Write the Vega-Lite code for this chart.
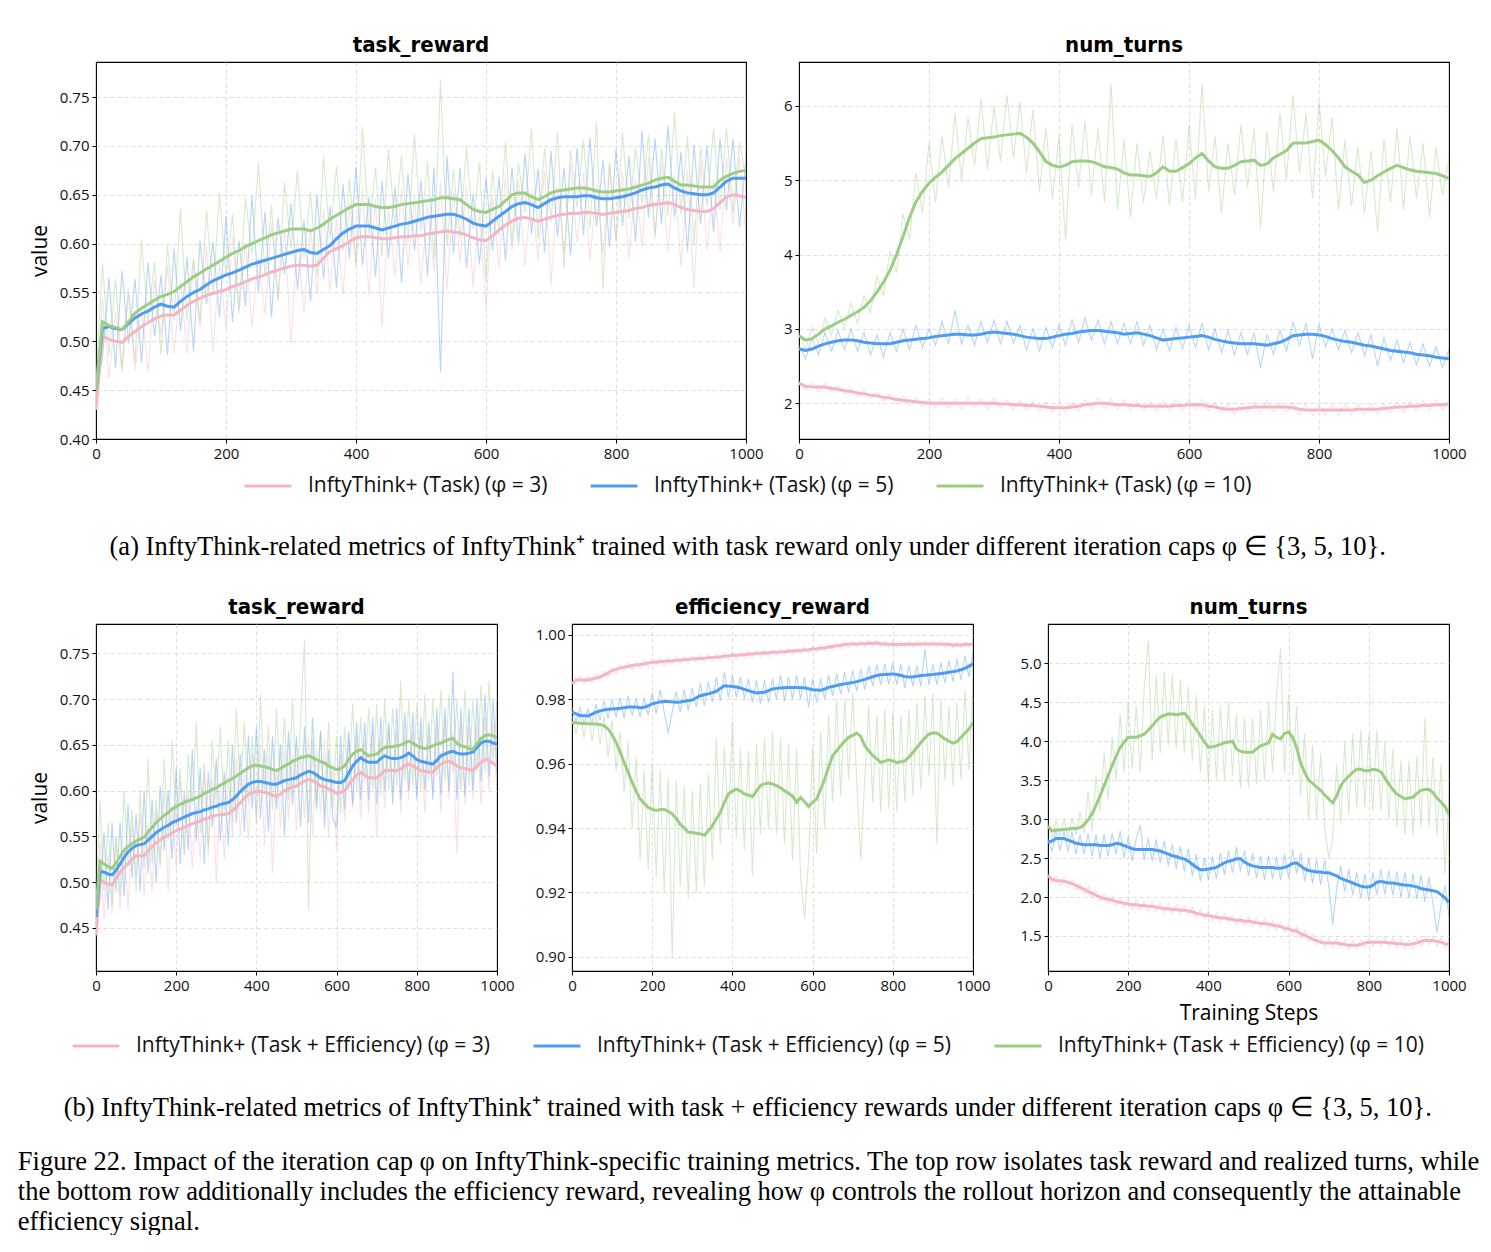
{
  "$schema": "https://vega.github.io/schema/vega-lite/v6.json",
  "padding": {"left": 17, "top": 33, "right": 0, "bottom": 0},
  "background": "white",
  "config": {
    "view": {"stroke": "#000", "strokeWidth": 1.1},
    "axis": {
      "labelFont": "Open Sans", "labelFontSize": 15, "labelColor": "#111",
      "tickColor": "#000", "tickSize": 4, "tickWidth": 1, "domain": false,
      "grid": true, "gridColor": "#d6d6d6", "gridDash": [4, 3], "gridWidth": 0.8,
      "labelFlush": false, "labelOverlap": false, "labelPadding": 3,
      "titleFont": "Open Sans", "titleFontSize": 21, "titleFontWeight": "normal", "titleColor": "#000"
    },
    "title": {"font": "DejaVu Sans Condensed, Liberation Sans Narrow, Roboto", "fontSize": 22, "fontWeight": "bold", "color": "#000", "offset": 5},
    "legend": {
      "orient": "bottom", "direction": "horizontal", "title": null,
      "labelFont": "Open Sans", "labelFontSize": 21, "labelColor": "#111", "labelLimit": 700,
      "symbolType": "stroke", "symbolSize": 2200, "symbolStrokeWidth": 3, "symbolOpacity": 1,
      "labelOffset": 15, "columnPadding": 36, "offset": -1,
      "layout": {"bottom": {"anchor": "middle"}}
    }
  },
  "datasets": {
    "runs": [
      {"p":1,"s":0,"a":0.43,"b":0.45,"c":0.46,"x":0.43,"y":0.45,"z":0.45},
      {"p":1,"s":10,"a":0.545,"b":0.483,"c":0.58,"x":0.505,"y":0.513,"z":0.52},
      {"p":1,"s":20,"a":0.462,"b":0.565,"c":0.486,"x":0.502,"y":0.515,"z":0.516},
      {"p":1,"s":30,"a":0.53,"b":0.473,"c":0.564,"x":0.5,"y":0.513,"z":0.514},
      {"p":1,"s":40,"a":0.469,"b":0.572,"c":0.472,"x":0.499,"y":0.512,"z":0.512},
      {"p":1,"s":50,"a":0.555,"b":0.498,"c":0.55,"x":0.505,"y":0.518,"z":0.52},
      {"p":1,"s":60,"a":0.47,"b":0.564,"c":0.479,"x":0.51,"y":0.524,"z":0.529},
      {"p":1,"s":70,"a":0.535,"b":0.478,"c":0.604,"x":0.515,"y":0.528,"z":0.534},
      {"p":1,"s":80,"a":0.469,"b":0.581,"c":0.518,"x":0.519,"y":0.531,"z":0.538},
      {"p":1,"s":90,"a":0.563,"b":0.505,"c":0.582,"x":0.523,"y":0.535,"z":0.542},
      {"p":1,"s":100,"a":0.506,"b":0.568,"c":0.486,"x":0.526,"y":0.538,"z":0.546},
      {"p":1,"s":110,"a":0.577,"b":0.486,"c":0.598,"x":0.527,"y":0.536,"z":0.548},
      {"p":1,"s":120,"a":0.487,"b":0.595,"c":0.521,"x":0.527,"y":0.535,"z":0.551},
      {"p":1,"s":130,"a":0.562,"b":0.511,"c":0.636,"x":0.532,"y":0.541,"z":0.556},
      {"p":1,"s":140,"a":0.487,"b":0.586,"c":0.521,"x":0.537,"y":0.546,"z":0.561},
      {"p":1,"s":150,"a":0.581,"b":0.49,"c":0.586,"x":0.541,"y":0.55,"z":0.566},
      {"p":1,"s":160,"a":0.514,"b":0.603,"c":0.52,"x":0.544,"y":0.553,"z":0.57},
      {"p":1,"s":170,"a":0.597,"b":0.538,"c":0.634,"x":0.547,"y":0.558,"z":0.574},
      {"p":1,"s":180,"a":0.489,"b":0.602,"c":0.548,"x":0.549,"y":0.562,"z":0.578},
      {"p":1,"s":190,"a":0.581,"b":0.525,"c":0.652,"x":0.551,"y":0.565,"z":0.582},
      {"p":1,"s":200,"a":0.513,"b":0.628,"c":0.566,"x":0.553,"y":0.568,"z":0.586},
      {"p":1,"s":210,"a":0.606,"b":0.52,"c":0.63,"x":0.556,"y":0.57,"z":0.59},
      {"p":1,"s":220,"a":0.528,"b":0.603,"c":0.533,"x":0.558,"y":0.573,"z":0.593},
      {"p":1,"s":230,"a":0.601,"b":0.536,"c":0.647,"x":0.561,"y":0.576,"z":0.597},
      {"p":1,"s":240,"a":0.514,"b":0.649,"c":0.59,"x":0.564,"y":0.579,"z":0.6},
      {"p":1,"s":250,"a":0.586,"b":0.551,"c":0.683,"x":0.566,"y":0.581,"z":0.603},
      {"p":1,"s":260,"a":0.528,"b":0.633,"c":0.566,"x":0.568,"y":0.583,"z":0.606},
      {"p":1,"s":270,"a":0.621,"b":0.525,"c":0.639,"x":0.571,"y":0.585,"z":0.609},
      {"p":1,"s":280,"a":0.543,"b":0.627,"c":0.541,"x":0.573,"y":0.587,"z":0.611},
      {"p":1,"s":290,"a":0.615,"b":0.569,"c":0.663,"x":0.575,"y":0.589,"z":0.613},
      {"p":1,"s":300,"a":0.497,"b":0.641,"c":0.595,"x":0.577,"y":0.591,"z":0.615},
      {"p":1,"s":310,"a":0.608,"b":0.553,"c":0.675,"x":0.578,"y":0.593,"z":0.615},
      {"p":1,"s":320,"a":0.528,"b":0.624,"c":0.585,"x":0.578,"y":0.594,"z":0.615},
      {"p":1,"s":330,"a":0.617,"b":0.541,"c":0.653,"x":0.577,"y":0.591,"z":0.613},
      {"p":1,"s":340,"a":0.548,"b":0.65,"c":0.566,"x":0.578,"y":0.59,"z":0.616},
      {"p":1,"s":350,"a":0.635,"b":0.564,"c":0.69,"x":0.585,"y":0.594,"z":0.62},
      {"p":1,"s":360,"a":0.552,"b":0.638,"c":0.605,"x":0.592,"y":0.598,"z":0.625},
      {"p":1,"s":370,"a":0.625,"b":0.555,"c":0.679,"x":0.595,"y":0.605,"z":0.629},
      {"p":1,"s":380,"a":0.548,"b":0.661,"c":0.593,"x":0.598,"y":0.611,"z":0.633},
      {"p":1,"s":390,"a":0.642,"b":0.585,"c":0.667,"x":0.602,"y":0.615,"z":0.637},
      {"p":1,"s":400,"a":0.576,"b":0.678,"c":0.58,"x":0.606,"y":0.618,"z":0.64},
      {"p":1,"s":410,"a":0.657,"b":0.578,"c":0.72,"x":0.607,"y":0.618,"z":0.64},
      {"p":1,"s":420,"a":0.547,"b":0.648,"c":0.61,"x":0.607,"y":0.618,"z":0.64},
      {"p":1,"s":430,"a":0.646,"b":0.566,"c":0.678,"x":0.606,"y":0.616,"z":0.638},
      {"p":1,"s":440,"a":0.515,"b":0.664,"c":0.587,"x":0.605,"y":0.614,"z":0.637},
      {"p":1,"s":450,"a":0.635,"b":0.586,"c":0.697,"x":0.605,"y":0.616,"z":0.637},
      {"p":1,"s":460,"a":0.566,"b":0.658,"c":0.618,"x":0.606,"y":0.618,"z":0.638},
      {"p":1,"s":470,"a":0.657,"b":0.56,"c":0.69,"x":0.607,"y":0.62,"z":0.64},
      {"p":1,"s":480,"a":0.577,"b":0.671,"c":0.601,"x":0.607,"y":0.621,"z":0.641},
      {"p":1,"s":490,"a":0.648,"b":0.593,"c":0.712,"x":0.608,"y":0.623,"z":0.642},
      {"p":1,"s":500,"a":0.558,"b":0.665,"c":0.613,"x":0.608,"y":0.625,"z":0.643},
      {"p":1,"s":510,"a":0.64,"b":0.567,"c":0.684,"x":0.61,"y":0.627,"z":0.644},
      {"p":1,"s":520,"a":0.571,"b":0.678,"c":0.585,"x":0.611,"y":0.628,"z":0.645},
      {"p":1,"s":530,"a":0.662,"b":0.469,"c":0.767,"x":0.612,"y":0.629,"z":0.647},
      {"p":1,"s":540,"a":0.553,"b":0.69,"c":0.597,"x":0.613,"y":0.63,"z":0.647},
      {"p":1,"s":550,"a":0.652,"b":0.59,"c":0.676,"x":0.612,"y":0.63,"z":0.646},
      {"p":1,"s":560,"a":0.581,"b":0.678,"c":0.605,"x":0.611,"y":0.628,"z":0.645},
      {"p":1,"s":570,"a":0.659,"b":0.575,"c":0.7,"x":0.609,"y":0.625,"z":0.64},
      {"p":1,"s":580,"a":0.556,"b":0.651,"c":0.615,"x":0.606,"y":0.621,"z":0.635},
      {"p":1,"s":590,"a":0.634,"b":0.579,"c":0.683,"x":0.604,"y":0.619,"z":0.633},
      {"p":1,"s":600,"a":0.533,"b":0.668,"c":0.562,"x":0.603,"y":0.618,"z":0.632},
      {"p":1,"s":610,"a":0.648,"b":0.593,"c":0.675,"x":0.608,"y":0.623,"z":0.635},
      {"p":1,"s":620,"a":0.574,"b":0.668,"c":0.608,"x":0.614,"y":0.628,"z":0.638},
      {"p":1,"s":630,"a":0.669,"b":0.583,"c":0.704,"x":0.619,"y":0.633,"z":0.644},
      {"p":1,"s":640,"a":0.593,"b":0.678,"c":0.6,"x":0.623,"y":0.638,"z":0.65},
      {"p":1,"s":650,"a":0.666,"b":0.601,"c":0.682,"x":0.626,"y":0.641,"z":0.652},
      {"p":1,"s":660,"a":0.577,"b":0.692,"c":0.632,"x":0.627,"y":0.642,"z":0.652},
      {"p":1,"s":670,"a":0.655,"b":0.61,"c":0.718,"x":0.625,"y":0.64,"z":0.648},
      {"p":1,"s":680,"a":0.583,"b":0.677,"c":0.605,"x":0.623,"y":0.637,"z":0.645},
      {"p":1,"s":690,"a":0.675,"b":0.591,"c":0.698,"x":0.625,"y":0.641,"z":0.648},
      {"p":1,"s":700,"a":0.557,"b":0.695,"c":0.622,"x":0.627,"y":0.645,"z":0.652},
      {"p":1,"s":710,"a":0.659,"b":0.607,"c":0.714,"x":0.629,"y":0.647,"z":0.654},
      {"p":1,"s":720,"a":0.59,"b":0.678,"c":0.575,"x":0.63,"y":0.648,"z":0.655},
      {"p":1,"s":730,"a":0.681,"b":0.588,"c":0.696,"x":0.631,"y":0.648,"z":0.656},
      {"p":1,"s":740,"a":0.601,"b":0.698,"c":0.637,"x":0.631,"y":0.648,"z":0.657},
      {"p":1,"s":750,"a":0.672,"b":0.609,"c":0.707,"x":0.632,"y":0.649,"z":0.657},
      {"p":1,"s":760,"a":0.582,"b":0.709,"c":0.616,"x":0.632,"y":0.649,"z":0.656},
      {"p":1,"s":770,"a":0.661,"b":0.617,"c":0.724,"x":0.631,"y":0.647,"z":0.654},
      {"p":1,"s":780,"a":0.59,"b":0.686,"c":0.553,"x":0.63,"y":0.646,"z":0.653},
      {"p":1,"s":790,"a":0.681,"b":0.596,"c":0.683,"x":0.631,"y":0.646,"z":0.653},
      {"p":1,"s":800,"a":0.602,"b":0.697,"c":0.604,"x":0.632,"y":0.647,"z":0.654},
      {"p":1,"s":810,"a":0.673,"b":0.618,"c":0.715,"x":0.633,"y":0.648,"z":0.655},
      {"p":1,"s":820,"a":0.584,"b":0.69,"c":0.626,"x":0.634,"y":0.65,"z":0.656},
      {"p":1,"s":830,"a":0.666,"b":0.602,"c":0.698,"x":0.636,"y":0.652,"z":0.658},
      {"p":1,"s":840,"a":0.597,"b":0.715,"c":0.64,"x":0.637,"y":0.655,"z":0.66},
      {"p":1,"s":850,"a":0.689,"b":0.627,"c":0.712,"x":0.639,"y":0.657,"z":0.662},
      {"p":1,"s":860,"a":0.61,"b":0.708,"c":0.605,"x":0.64,"y":0.658,"z":0.665},
      {"p":1,"s":870,"a":0.681,"b":0.62,"c":0.697,"x":0.641,"y":0.66,"z":0.667},
      {"p":1,"s":880,"a":0.592,"b":0.721,"c":0.628,"x":0.642,"y":0.661,"z":0.668},
      {"p":1,"s":890,"a":0.67,"b":0.627,"c":0.734,"x":0.64,"y":0.657,"z":0.664},
      {"p":1,"s":900,"a":0.577,"b":0.694,"c":0.63,"x":0.637,"y":0.654,"z":0.66},
      {"p":1,"s":910,"a":0.675,"b":0.592,"c":0.71,"x":0.635,"y":0.652,"z":0.66},
      {"p":1,"s":920,"a":0.554,"b":0.701,"c":0.599,"x":0.634,"y":0.651,"z":0.659},
      {"p":1,"s":930,"a":0.683,"b":0.62,"c":0.698,"x":0.633,"y":0.65,"z":0.658},
      {"p":1,"s":940,"a":0.593,"b":0.7,"c":0.638,"x":0.633,"y":0.65,"z":0.658},
      {"p":1,"s":950,"a":0.666,"b":0.612,"c":0.718,"x":0.636,"y":0.652,"z":0.658},
      {"p":1,"s":960,"a":0.592,"b":0.708,"c":0.635,"x":0.642,"y":0.658,"z":0.665},
      {"p":1,"s":970,"a":0.688,"b":0.634,"c":0.719,"x":0.648,"y":0.664,"z":0.669},
      {"p":1,"s":980,"a":0.62,"b":0.707,"c":0.632,"x":0.65,"y":0.667,"z":0.672},
      {"p":1,"s":990,"a":0.689,"b":0.617,"c":0.704,"x":0.649,"y":0.667,"z":0.674},
      {"p":1,"s":1000,"a":0.607,"b":0.687,"c":0.665,"x":0.647,"y":0.667,"z":0.675},

      {"p":2,"s":0,"a":2.3,"b":2.78,"c":2.95,"x":2.27,"y":2.73,"z":2.91},
      {"p":2,"s":10,"a":2.18,"b":2.6,"c":2.72,"x":2.23,"y":2.71,"z":2.85},
      {"p":2,"s":20,"a":2.27,"b":2.88,"c":3.02,"x":2.22,"y":2.73,"z":2.87},
      {"p":2,"s":30,"a":2.16,"b":2.65,"c":2.8,"x":2.22,"y":2.77,"z":2.93},
      {"p":2,"s":40,"a":2.27,"b":2.95,"c":3.15,"x":2.22,"y":2.8,"z":3.0},
      {"p":2,"s":50,"a":2.15,"b":2.7,"c":2.92,"x":2.2,"y":2.82,"z":3.04},
      {"p":2,"s":60,"a":2.24,"b":2.98,"c":3.25,"x":2.19,"y":2.84,"z":3.09},
      {"p":2,"s":70,"a":2.12,"b":2.72,"c":3.0,"x":2.17,"y":2.85,"z":3.13},
      {"p":2,"s":80,"a":2.21,"b":3.0,"c":3.35,"x":2.16,"y":2.85,"z":3.18},
      {"p":2,"s":90,"a":2.09,"b":2.7,"c":3.08,"x":2.14,"y":2.84,"z":3.23},
      {"p":2,"s":100,"a":2.18,"b":2.95,"c":3.45,"x":2.13,"y":2.82,"z":3.29},
      {"p":2,"s":110,"a":2.06,"b":2.65,"c":3.22,"x":2.11,"y":2.81,"z":3.38},
      {"p":2,"s":120,"a":2.15,"b":2.92,"c":3.7,"x":2.1,"y":2.8,"z":3.5},
      {"p":2,"s":130,"a":2.03,"b":2.62,"c":3.45,"x":2.08,"y":2.8,"z":3.63},
      {"p":2,"s":140,"a":2.12,"b":2.95,"c":4.05,"x":2.07,"y":2.8,"z":3.79},
      {"p":2,"s":150,"a":2.0,"b":2.7,"c":3.75,"x":2.05,"y":2.82,"z":4.0},
      {"p":2,"s":160,"a":2.1,"b":3.0,"c":4.55,"x":2.04,"y":2.84,"z":4.24},
      {"p":2,"s":170,"a":1.97,"b":2.72,"c":4.2,"x":2.03,"y":2.85,"z":4.5},
      {"p":2,"s":180,"a":2.08,"b":3.05,"c":5.1,"x":2.02,"y":2.86,"z":4.71},
      {"p":2,"s":190,"a":1.95,"b":2.75,"c":4.55,"x":2.01,"y":2.87,"z":4.85},
      {"p":2,"s":200,"a":2.06,"b":3.0,"c":5.5,"x":2.0,"y":2.88,"z":4.96},
      {"p":2,"s":210,"a":1.94,"b":2.78,"c":4.7,"x":2.0,"y":2.9,"z":5.04},
      {"p":2,"s":220,"a":2.07,"b":3.1,"c":5.6,"x":2.0,"y":2.91,"z":5.11},
      {"p":2,"s":230,"a":1.93,"b":2.8,"c":4.9,"x":2.0,"y":2.92,"z":5.2},
      {"p":2,"s":240,"a":2.06,"b":3.25,"c":5.9,"x":2.0,"y":2.93,"z":5.29},
      {"p":2,"s":250,"a":1.92,"b":2.8,"c":5.0,"x":2.0,"y":2.93,"z":5.36},
      {"p":2,"s":260,"a":2.07,"b":3.05,"c":5.85,"x":2.0,"y":2.92,"z":5.43},
      {"p":2,"s":270,"a":1.94,"b":2.78,"c":5.2,"x":2.0,"y":2.92,"z":5.5},
      {"p":2,"s":280,"a":2.06,"b":3.1,"c":6.1,"x":2.0,"y":2.93,"z":5.56},
      {"p":2,"s":290,"a":1.92,"b":2.82,"c":5.15,"x":2.0,"y":2.95,"z":5.57},
      {"p":2,"s":300,"a":2.07,"b":3.12,"c":6.0,"x":2.0,"y":2.96,"z":5.58},
      {"p":2,"s":310,"a":1.93,"b":2.8,"c":5.25,"x":1.99,"y":2.95,"z":5.6},
      {"p":2,"s":320,"a":2.05,"b":3.1,"c":6.15,"x":1.99,"y":2.94,"z":5.61},
      {"p":2,"s":330,"a":1.91,"b":2.8,"c":5.3,"x":1.98,"y":2.93,"z":5.62},
      {"p":2,"s":340,"a":2.04,"b":3.05,"c":6.05,"x":1.98,"y":2.91,"z":5.63},
      {"p":2,"s":350,"a":1.9,"b":2.72,"c":5.1,"x":1.97,"y":2.89,"z":5.58},
      {"p":2,"s":360,"a":2.03,"b":3.0,"c":5.95,"x":1.97,"y":2.88,"z":5.5},
      {"p":2,"s":370,"a":1.89,"b":2.7,"c":4.85,"x":1.96,"y":2.87,"z":5.38},
      {"p":2,"s":380,"a":2.02,"b":3.02,"c":5.7,"x":1.95,"y":2.87,"z":5.25},
      {"p":2,"s":390,"a":1.88,"b":2.75,"c":4.75,"x":1.94,"y":2.89,"z":5.2},
      {"p":2,"s":400,"a":2.01,"b":3.05,"c":5.6,"x":1.94,"y":2.91,"z":5.18},
      {"p":2,"s":410,"a":1.87,"b":2.78,"c":4.2,"x":1.94,"y":2.93,"z":5.2},
      {"p":2,"s":420,"a":2.02,"b":3.12,"c":5.75,"x":1.95,"y":2.94,"z":5.25},
      {"p":2,"s":430,"a":1.89,"b":2.82,"c":4.9,"x":1.96,"y":2.96,"z":5.26},
      {"p":2,"s":440,"a":2.05,"b":3.15,"c":5.8,"x":1.98,"y":2.97,"z":5.26},
      {"p":2,"s":450,"a":1.92,"b":2.85,"c":4.8,"x":1.99,"y":2.98,"z":5.25},
      {"p":2,"s":460,"a":2.07,"b":3.12,"c":5.7,"x":2.0,"y":2.98,"z":5.22},
      {"p":2,"s":470,"a":1.93,"b":2.8,"c":4.7,"x":2.0,"y":2.97,"z":5.18},
      {"p":2,"s":480,"a":2.06,"b":3.1,"c":6.3,"x":1.99,"y":2.96,"z":5.17},
      {"p":2,"s":490,"a":1.91,"b":2.8,"c":4.6,"x":1.98,"y":2.95,"z":5.15},
      {"p":2,"s":500,"a":2.05,"b":3.08,"c":5.55,"x":1.98,"y":2.93,"z":5.1},
      {"p":2,"s":510,"a":1.9,"b":2.8,"c":4.5,"x":1.97,"y":2.94,"z":5.07},
      {"p":2,"s":520,"a":2.04,"b":3.1,"c":5.5,"x":1.97,"y":2.95,"z":5.07},
      {"p":2,"s":530,"a":1.89,"b":2.78,"c":4.7,"x":1.96,"y":2.93,"z":5.06},
      {"p":2,"s":540,"a":2.03,"b":3.05,"c":5.4,"x":1.96,"y":2.91,"z":5.05},
      {"p":2,"s":550,"a":1.89,"b":2.72,"c":4.75,"x":1.96,"y":2.88,"z":5.1},
      {"p":2,"s":560,"a":2.03,"b":3.0,"c":5.6,"x":1.96,"y":2.85,"z":5.18},
      {"p":2,"s":570,"a":1.9,"b":2.7,"c":4.65,"x":1.96,"y":2.86,"z":5.12},
      {"p":2,"s":580,"a":2.04,"b":3.02,"c":5.55,"x":1.97,"y":2.87,"z":5.12},
      {"p":2,"s":590,"a":1.9,"b":2.73,"c":4.7,"x":1.97,"y":2.88,"z":5.17},
      {"p":2,"s":600,"a":2.05,"b":3.05,"c":5.75,"x":1.98,"y":2.89,"z":5.22},
      {"p":2,"s":610,"a":1.91,"b":2.75,"c":4.75,"x":1.98,"y":2.9,"z":5.3},
      {"p":2,"s":620,"a":2.06,"b":3.08,"c":6.3,"x":1.98,"y":2.91,"z":5.36},
      {"p":2,"s":630,"a":1.9,"b":2.72,"c":4.85,"x":1.96,"y":2.89,"z":5.26},
      {"p":2,"s":640,"a":2.02,"b":3.0,"c":5.6,"x":1.95,"y":2.86,"z":5.18},
      {"p":2,"s":650,"a":1.87,"b":2.68,"c":4.55,"x":1.93,"y":2.84,"z":5.16},
      {"p":2,"s":660,"a":1.99,"b":2.98,"c":5.5,"x":1.92,"y":2.82,"z":5.16},
      {"p":2,"s":670,"a":1.85,"b":2.65,"c":4.8,"x":1.92,"y":2.81,"z":5.2},
      {"p":2,"s":680,"a":2.0,"b":2.95,"c":5.75,"x":1.93,"y":2.8,"z":5.25},
      {"p":2,"s":690,"a":1.87,"b":2.66,"c":4.9,"x":1.94,"y":2.8,"z":5.26},
      {"p":2,"s":700,"a":2.02,"b":2.95,"c":5.7,"x":1.95,"y":2.8,"z":5.27},
      {"p":2,"s":710,"a":1.88,"b":2.48,"c":4.35,"x":1.95,"y":2.79,"z":5.2},
      {"p":2,"s":720,"a":2.03,"b":2.93,"c":5.65,"x":1.95,"y":2.78,"z":5.22},
      {"p":2,"s":730,"a":1.88,"b":2.66,"c":4.85,"x":1.95,"y":2.8,"z":5.3},
      {"p":2,"s":740,"a":2.02,"b":2.98,"c":5.9,"x":1.95,"y":2.82,"z":5.35},
      {"p":2,"s":750,"a":1.88,"b":2.7,"c":5.0,"x":1.95,"y":2.86,"z":5.4},
      {"p":2,"s":760,"a":2.01,"b":3.1,"c":6.15,"x":1.94,"y":2.91,"z":5.5},
      {"p":2,"s":770,"a":1.85,"b":2.78,"c":5.1,"x":1.92,"y":2.92,"z":5.5},
      {"p":2,"s":780,"a":1.98,"b":3.08,"c":5.9,"x":1.91,"y":2.93,"z":5.5},
      {"p":2,"s":790,"a":1.84,"b":2.6,"c":4.75,"x":1.91,"y":2.93,"z":5.52},
      {"p":2,"s":800,"a":1.98,"b":3.06,"c":6.05,"x":1.91,"y":2.92,"z":5.54},
      {"p":2,"s":810,"a":1.84,"b":2.76,"c":5.05,"x":1.91,"y":2.9,"z":5.48},
      {"p":2,"s":820,"a":1.98,"b":3.0,"c":5.85,"x":1.91,"y":2.87,"z":5.4},
      {"p":2,"s":830,"a":1.84,"b":2.72,"c":4.6,"x":1.91,"y":2.85,"z":5.3},
      {"p":2,"s":840,"a":1.98,"b":2.98,"c":5.55,"x":1.91,"y":2.83,"z":5.18},
      {"p":2,"s":850,"a":1.85,"b":2.68,"c":4.65,"x":1.91,"y":2.82,"z":5.12},
      {"p":2,"s":860,"a":1.99,"b":2.95,"c":5.45,"x":1.92,"y":2.8,"z":5.07},
      {"p":2,"s":870,"a":1.85,"b":2.64,"c":4.55,"x":1.92,"y":2.78,"z":4.97},
      {"p":2,"s":880,"a":1.99,"b":2.92,"c":5.4,"x":1.92,"y":2.77,"z":5.0},
      {"p":2,"s":890,"a":1.86,"b":2.5,"c":4.3,"x":1.92,"y":2.75,"z":5.06},
      {"p":2,"s":900,"a":2.0,"b":2.88,"c":5.55,"x":1.93,"y":2.73,"z":5.11},
      {"p":2,"s":910,"a":1.87,"b":2.58,"c":4.7,"x":1.94,"y":2.71,"z":5.16},
      {"p":2,"s":920,"a":2.02,"b":2.85,"c":5.7,"x":1.95,"y":2.7,"z":5.2},
      {"p":2,"s":930,"a":1.88,"b":2.55,"c":4.6,"x":1.95,"y":2.69,"z":5.17},
      {"p":2,"s":940,"a":2.03,"b":2.82,"c":5.6,"x":1.96,"y":2.68,"z":5.14},
      {"p":2,"s":950,"a":1.89,"b":2.52,"c":4.75,"x":1.96,"y":2.66,"z":5.12},
      {"p":2,"s":960,"a":2.04,"b":2.8,"c":5.5,"x":1.97,"y":2.65,"z":5.11},
      {"p":2,"s":970,"a":1.9,"b":2.5,"c":4.5,"x":1.97,"y":2.64,"z":5.1},
      {"p":2,"s":980,"a":2.05,"b":2.76,"c":5.45,"x":1.98,"y":2.62,"z":5.09},
      {"p":2,"s":990,"a":1.91,"b":2.48,"c":4.8,"x":1.98,"y":2.61,"z":5.06},
      {"p":2,"s":1000,"a":2.05,"b":2.72,"c":5.3,"x":1.99,"y":2.6,"z":5.02},

      {"p":3,"s":0,"a":0.44,"b":0.46,"c":0.48,"x":0.442,"y":0.462,"z":0.47},
      {"p":3,"s":10,"a":0.545,"b":0.48,"c":0.59,"x":0.503,"y":0.512,"z":0.523},
      {"p":3,"s":20,"a":0.46,"b":0.555,"c":0.49,"x":0.5,"y":0.511,"z":0.52},
      {"p":3,"s":30,"a":0.53,"b":0.47,"c":0.565,"x":0.498,"y":0.509,"z":0.517},
      {"p":3,"s":40,"a":0.465,"b":0.565,"c":0.475,"x":0.497,"y":0.508,"z":0.515},
      {"p":3,"s":50,"a":0.55,"b":0.49,"c":0.55,"x":0.504,"y":0.513,"z":0.521},
      {"p":3,"s":60,"a":0.47,"b":0.565,"c":0.485,"x":0.511,"y":0.52,"z":0.528},
      {"p":3,"s":70,"a":0.54,"b":0.485,"c":0.6,"x":0.516,"y":0.527,"z":0.535},
      {"p":3,"s":80,"a":0.47,"b":0.585,"c":0.52,"x":0.52,"y":0.533,"z":0.539},
      {"p":3,"s":90,"a":0.565,"b":0.505,"c":0.58,"x":0.525,"y":0.537,"z":0.542},
      {"p":3,"s":100,"a":0.505,"b":0.575,"c":0.49,"x":0.529,"y":0.54,"z":0.545},
      {"p":3,"s":110,"a":0.575,"b":0.49,"c":0.6,"x":0.529,"y":0.541,"z":0.547},
      {"p":3,"s":120,"a":0.485,"b":0.6,"c":0.515,"x":0.529,"y":0.542,"z":0.549},
      {"p":3,"s":130,"a":0.565,"b":0.51,"c":0.635,"x":0.534,"y":0.546,"z":0.555},
      {"p":3,"s":140,"a":0.49,"b":0.59,"c":0.52,"x":0.539,"y":0.55,"z":0.56},
      {"p":3,"s":150,"a":0.58,"b":0.5,"c":0.59,"x":0.543,"y":0.554,"z":0.565},
      {"p":3,"s":160,"a":0.515,"b":0.605,"c":0.52,"x":0.546,"y":0.557,"z":0.569},
      {"p":3,"s":170,"a":0.6,"b":0.535,"c":0.635,"x":0.549,"y":0.56,"z":0.573},
      {"p":3,"s":180,"a":0.49,"b":0.6,"c":0.545,"x":0.551,"y":0.562,"z":0.576},
      {"p":3,"s":190,"a":0.585,"b":0.525,"c":0.655,"x":0.554,"y":0.565,"z":0.58},
      {"p":3,"s":200,"a":0.515,"b":0.625,"c":0.56,"x":0.556,"y":0.567,"z":0.583},
      {"p":3,"s":210,"a":0.61,"b":0.52,"c":0.625,"x":0.558,"y":0.569,"z":0.585},
      {"p":3,"s":220,"a":0.53,"b":0.6,"c":0.53,"x":0.56,"y":0.571,"z":0.587},
      {"p":3,"s":230,"a":0.6,"b":0.535,"c":0.64,"x":0.562,"y":0.573,"z":0.589},
      {"p":3,"s":240,"a":0.515,"b":0.645,"c":0.585,"x":0.564,"y":0.575,"z":0.59},
      {"p":3,"s":250,"a":0.585,"b":0.545,"c":0.675,"x":0.565,"y":0.576,"z":0.592},
      {"p":3,"s":260,"a":0.525,"b":0.625,"c":0.555,"x":0.567,"y":0.577,"z":0.594},
      {"p":3,"s":270,"a":0.62,"b":0.52,"c":0.63,"x":0.569,"y":0.579,"z":0.597},
      {"p":3,"s":280,"a":0.54,"b":0.62,"c":0.53,"x":0.57,"y":0.58,"z":0.599},
      {"p":3,"s":290,"a":0.615,"b":0.56,"c":0.655,"x":0.572,"y":0.582,"z":0.601},
      {"p":3,"s":300,"a":0.5,"b":0.635,"c":0.585,"x":0.573,"y":0.583,"z":0.603},
      {"p":3,"s":310,"a":0.605,"b":0.545,"c":0.67,"x":0.574,"y":0.585,"z":0.606},
      {"p":3,"s":320,"a":0.525,"b":0.62,"c":0.575,"x":0.574,"y":0.586,"z":0.608},
      {"p":3,"s":330,"a":0.615,"b":0.54,"c":0.655,"x":0.575,"y":0.587,"z":0.611},
      {"p":3,"s":340,"a":0.55,"b":0.65,"c":0.565,"x":0.578,"y":0.59,"z":0.613},
      {"p":3,"s":350,"a":0.635,"b":0.565,"c":0.69,"x":0.582,"y":0.594,"z":0.616},
      {"p":3,"s":360,"a":0.55,"b":0.64,"c":0.6,"x":0.587,"y":0.599,"z":0.619},
      {"p":3,"s":370,"a":0.62,"b":0.555,"c":0.675,"x":0.592,"y":0.603,"z":0.622},
      {"p":3,"s":380,"a":0.545,"b":0.66,"c":0.585,"x":0.596,"y":0.607,"z":0.625},
      {"p":3,"s":390,"a":0.64,"b":0.58,"c":0.66,"x":0.598,"y":0.609,"z":0.627},
      {"p":3,"s":400,"a":0.57,"b":0.67,"c":0.565,"x":0.599,"y":0.61,"z":0.628},
      {"p":3,"s":410,"a":0.65,"b":0.57,"c":0.705,"x":0.599,"y":0.61,"z":0.627},
      {"p":3,"s":420,"a":0.54,"b":0.645,"c":0.6,"x":0.598,"y":0.609,"z":0.626},
      {"p":3,"s":430,"a":0.64,"b":0.555,"c":0.67,"x":0.597,"y":0.608,"z":0.625},
      {"p":3,"s":440,"a":0.51,"b":0.66,"c":0.58,"x":0.595,"y":0.607,"z":0.623},
      {"p":3,"s":450,"a":0.625,"b":0.58,"c":0.69,"x":0.594,"y":0.607,"z":0.622},
      {"p":3,"s":460,"a":0.56,"b":0.65,"c":0.605,"x":0.596,"y":0.609,"z":0.624},
      {"p":3,"s":470,"a":0.645,"b":0.55,"c":0.68,"x":0.6,"y":0.611,"z":0.627},
      {"p":3,"s":480,"a":0.57,"b":0.665,"c":0.59,"x":0.602,"y":0.612,"z":0.629},
      {"p":3,"s":490,"a":0.64,"b":0.585,"c":0.7,"x":0.604,"y":0.613,"z":0.632},
      {"p":3,"s":500,"a":0.555,"b":0.66,"c":0.605,"x":0.605,"y":0.614,"z":0.634},
      {"p":3,"s":510,"a":0.64,"b":0.56,"c":0.675,"x":0.608,"y":0.617,"z":0.636},
      {"p":3,"s":520,"a":0.57,"b":0.67,"c":0.765,"x":0.61,"y":0.619,"z":0.637},
      {"p":3,"s":530,"a":0.66,"b":0.565,"c":0.47,"x":0.612,"y":0.621,"z":0.638},
      {"p":3,"s":540,"a":0.55,"b":0.68,"c":0.655,"x":0.611,"y":0.62,"z":0.636},
      {"p":3,"s":550,"a":0.645,"b":0.58,"c":0.585,"x":0.608,"y":0.617,"z":0.634},
      {"p":3,"s":560,"a":0.575,"b":0.665,"c":0.665,"x":0.605,"y":0.614,"z":0.632},
      {"p":3,"s":570,"a":0.655,"b":0.56,"c":0.575,"x":0.604,"y":0.612,"z":0.63},
      {"p":3,"s":580,"a":0.55,"b":0.645,"c":0.675,"x":0.602,"y":0.611,"z":0.627},
      {"p":3,"s":590,"a":0.63,"b":0.57,"c":0.58,"x":0.6,"y":0.61,"z":0.625},
      {"p":3,"s":600,"a":0.535,"b":0.56,"c":0.66,"x":0.597,"y":0.609,"z":0.623},
      {"p":3,"s":610,"a":0.64,"b":0.66,"c":0.575,"x":0.598,"y":0.609,"z":0.624},
      {"p":3,"s":620,"a":0.565,"b":0.58,"c":0.67,"x":0.6,"y":0.611,"z":0.627},
      {"p":3,"s":630,"a":0.66,"b":0.665,"c":0.6,"x":0.606,"y":0.619,"z":0.634},
      {"p":3,"s":640,"a":0.58,"b":0.585,"c":0.695,"x":0.612,"y":0.627,"z":0.64},
      {"p":3,"s":650,"a":0.66,"b":0.675,"c":0.6,"x":0.617,"y":0.632,"z":0.643},
      {"p":3,"s":660,"a":0.57,"b":0.59,"c":0.68,"x":0.62,"y":0.636,"z":0.645},
      {"p":3,"s":670,"a":0.655,"b":0.675,"c":0.61,"x":0.617,"y":0.633,"z":0.641},
      {"p":3,"s":680,"a":0.575,"b":0.59,"c":0.69,"x":0.614,"y":0.631,"z":0.638},
      {"p":3,"s":690,"a":0.665,"b":0.68,"c":0.6,"x":0.614,"y":0.631,"z":0.639},
      {"p":3,"s":700,"a":0.55,"b":0.585,"c":0.695,"x":0.614,"y":0.631,"z":0.64},
      {"p":3,"s":710,"a":0.655,"b":0.68,"c":0.595,"x":0.618,"y":0.635,"z":0.644},
      {"p":3,"s":720,"a":0.58,"b":0.6,"c":0.7,"x":0.622,"y":0.638,"z":0.647},
      {"p":3,"s":730,"a":0.67,"b":0.675,"c":0.6,"x":0.622,"y":0.636,"z":0.648},
      {"p":3,"s":740,"a":0.6,"b":0.585,"c":0.69,"x":0.622,"y":0.635,"z":0.648},
      {"p":3,"s":750,"a":0.665,"b":0.69,"c":0.605,"x":0.622,"y":0.635,"z":0.649},
      {"p":3,"s":760,"a":0.575,"b":0.59,"c":0.72,"x":0.624,"y":0.636,"z":0.65},
      {"p":3,"s":770,"a":0.66,"b":0.685,"c":0.61,"x":0.627,"y":0.638,"z":0.652},
      {"p":3,"s":780,"a":0.59,"b":0.6,"c":0.7,"x":0.629,"y":0.641,"z":0.654},
      {"p":3,"s":790,"a":0.665,"b":0.685,"c":0.605,"x":0.627,"y":0.638,"z":0.652},
      {"p":3,"s":800,"a":0.595,"b":0.59,"c":0.695,"x":0.624,"y":0.634,"z":0.649},
      {"p":3,"s":810,"a":0.665,"b":0.68,"c":0.6,"x":0.622,"y":0.632,"z":0.647},
      {"p":3,"s":820,"a":0.575,"b":0.6,"c":0.705,"x":0.621,"y":0.631,"z":0.646},
      {"p":3,"s":830,"a":0.66,"b":0.675,"c":0.61,"x":0.62,"y":0.63,"z":0.647},
      {"p":3,"s":840,"a":0.6,"b":0.59,"c":0.7,"x":0.62,"y":0.629,"z":0.649},
      {"p":3,"s":850,"a":0.67,"b":0.69,"c":0.615,"x":0.625,"y":0.633,"z":0.651},
      {"p":3,"s":860,"a":0.575,"b":0.595,"c":0.71,"x":0.629,"y":0.638,"z":0.652},
      {"p":3,"s":870,"a":0.68,"b":0.69,"c":0.61,"x":0.631,"y":0.64,"z":0.654},
      {"p":3,"s":880,"a":0.59,"b":0.6,"c":0.705,"x":0.632,"y":0.642,"z":0.656},
      {"p":3,"s":890,"a":0.665,"b":0.73,"c":0.62,"x":0.63,"y":0.643,"z":0.657},
      {"p":3,"s":900,"a":0.53,"b":0.59,"c":0.7,"x":0.627,"y":0.641,"z":0.652},
      {"p":3,"s":910,"a":0.675,"b":0.69,"c":0.6,"x":0.625,"y":0.64,"z":0.649},
      {"p":3,"s":920,"a":0.585,"b":0.595,"c":0.71,"x":0.624,"y":0.64,"z":0.648},
      {"p":3,"s":930,"a":0.67,"b":0.69,"c":0.605,"x":0.623,"y":0.641,"z":0.646},
      {"p":3,"s":940,"a":0.59,"b":0.6,"c":0.7,"x":0.622,"y":0.642,"z":0.645},
      {"p":3,"s":950,"a":0.67,"b":0.7,"c":0.62,"x":0.627,"y":0.647,"z":0.651},
      {"p":3,"s":960,"a":0.585,"b":0.61,"c":0.715,"x":0.631,"y":0.652,"z":0.657},
      {"p":3,"s":970,"a":0.68,"b":0.705,"c":0.62,"x":0.634,"y":0.654,"z":0.66},
      {"p":3,"s":980,"a":0.6,"b":0.615,"c":0.72,"x":0.633,"y":0.654,"z":0.661},
      {"p":3,"s":990,"a":0.675,"b":0.7,"c":0.63,"x":0.63,"y":0.652,"z":0.66},
      {"p":3,"s":1000,"a":0.6,"b":0.62,"c":0.7,"x":0.627,"y":0.651,"z":0.658},

      {"p":4,"s":0,"a":0.9855,"b":0.9775,"c":0.975,"x":0.9848,"y":0.976,"z":0.9728},
      {"p":4,"s":10,"a":0.9845,"b":0.973,"c":0.969,"x":0.986,"y":0.9755,"z":0.9727},
      {"p":4,"s":20,"a":0.9872,"b":0.9775,"c":0.9755,"x":0.986,"y":0.975,"z":0.9726},
      {"p":4,"s":30,"a":0.9848,"b":0.9725,"c":0.968,"x":0.986,"y":0.9749,"z":0.9725},
      {"p":4,"s":40,"a":0.9873,"b":0.977,"c":0.976,"x":0.986,"y":0.9748,"z":0.9724},
      {"p":4,"s":50,"a":0.985,"b":0.9725,"c":0.967,"x":0.9863,"y":0.9754,"z":0.9723},
      {"p":4,"s":60,"a":0.9878,"b":0.9785,"c":0.9755,"x":0.9866,"y":0.976,"z":0.9723},
      {"p":4,"s":70,"a":0.9857,"b":0.9735,"c":0.966,"x":0.987,"y":0.9764,"z":0.9722},
      {"p":4,"s":80,"a":0.9888,"b":0.9795,"c":0.975,"x":0.9875,"y":0.9767,"z":0.9718},
      {"p":4,"s":90,"a":0.987,"b":0.974,"c":0.962,"x":0.9882,"y":0.9769,"z":0.9708},
      {"p":4,"s":100,"a":0.99,"b":0.98,"c":0.9735,"x":0.9889,"y":0.977,"z":0.969},
      {"p":4,"s":110,"a":0.988,"b":0.9745,"c":0.958,"x":0.9893,"y":0.9771,"z":0.9666},
      {"p":4,"s":120,"a":0.9908,"b":0.9805,"c":0.97,"x":0.9897,"y":0.9772,"z":0.9636},
      {"p":4,"s":130,"a":0.9888,"b":0.974,"c":0.951,"x":0.99,"y":0.9774,"z":0.9604},
      {"p":4,"s":140,"a":0.9914,"b":0.981,"c":0.967,"x":0.9902,"y":0.9776,"z":0.9573},
      {"p":4,"s":150,"a":0.9892,"b":0.975,"c":0.94,"x":0.9905,"y":0.9776,"z":0.9542},
      {"p":4,"s":160,"a":0.9918,"b":0.9805,"c":0.962,"x":0.9907,"y":0.9776,"z":0.9515},
      {"p":4,"s":170,"a":0.9897,"b":0.9745,"c":0.93,"x":0.9908,"y":0.9774,"z":0.949},
      {"p":4,"s":180,"a":0.9922,"b":0.9805,"c":0.958,"x":0.991,"y":0.9775,"z":0.9477},
      {"p":4,"s":190,"a":0.99,"b":0.975,"c":0.927,"x":0.9913,"y":0.978,"z":0.9464},
      {"p":4,"s":200,"a":0.9926,"b":0.982,"c":0.96,"x":0.9915,"y":0.9786,"z":0.9458},
      {"p":4,"s":210,"a":0.9904,"b":0.9755,"c":0.925,"x":0.9916,"y":0.9789,"z":0.9455},
      {"p":4,"s":220,"a":0.9928,"b":0.983,"c":0.958,"x":0.9917,"y":0.9792,"z":0.9458},
      {"p":4,"s":230,"a":0.9906,"b":0.976,"c":0.92,"x":0.9918,"y":0.9793,"z":0.9458},
      {"p":4,"s":240,"a":0.993,"b":0.9695,"c":0.956,"x":0.9919,"y":0.9793,"z":0.9452},
      {"p":4,"s":250,"a":0.9908,"b":0.976,"c":0.9,"x":0.992,"y":0.9792,"z":0.9444},
      {"p":4,"s":260,"a":0.9932,"b":0.9825,"c":0.955,"x":0.9921,"y":0.9791,"z":0.943},
      {"p":4,"s":270,"a":0.991,"b":0.976,"c":0.922,"x":0.9922,"y":0.9792,"z":0.9412},
      {"p":4,"s":280,"a":0.9934,"b":0.983,"c":0.953,"x":0.9923,"y":0.9794,"z":0.94},
      {"p":4,"s":290,"a":0.9912,"b":0.9765,"c":0.918,"x":0.9924,"y":0.9796,"z":0.9387},
      {"p":4,"s":300,"a":0.9936,"b":0.9835,"c":0.952,"x":0.9925,"y":0.9798,"z":0.9386},
      {"p":4,"s":310,"a":0.9914,"b":0.9775,"c":0.92,"x":0.9926,"y":0.9805,"z":0.9384},
      {"p":4,"s":320,"a":0.9938,"b":0.985,"c":0.954,"x":0.9927,"y":0.9811,"z":0.9382},
      {"p":4,"s":330,"a":0.9916,"b":0.978,"c":0.922,"x":0.9928,"y":0.9814,"z":0.9378},
      {"p":4,"s":340,"a":0.994,"b":0.9855,"c":0.957,"x":0.9929,"y":0.9817,"z":0.9392},
      {"p":4,"s":350,"a":0.9918,"b":0.979,"c":0.93,"x":0.993,"y":0.9821,"z":0.9407},
      {"p":4,"s":360,"a":0.9942,"b":0.987,"c":0.968,"x":0.9931,"y":0.9825,"z":0.9428},
      {"p":4,"s":370,"a":0.992,"b":0.9795,"c":0.935,"x":0.9932,"y":0.9834,"z":0.9449},
      {"p":4,"s":380,"a":0.9945,"b":0.9885,"c":0.965,"x":0.9934,"y":0.9842,"z":0.948},
      {"p":4,"s":390,"a":0.9923,"b":0.9805,"c":0.94,"x":0.9935,"y":0.9841,"z":0.9506},
      {"p":4,"s":400,"a":0.9947,"b":0.9875,"c":0.973,"x":0.9936,"y":0.984,"z":0.9515},
      {"p":4,"s":410,"a":0.9925,"b":0.9805,"c":0.937,"x":0.9937,"y":0.9838,"z":0.9521},
      {"p":4,"s":420,"a":0.9949,"b":0.987,"c":0.965,"x":0.9938,"y":0.9835,"z":0.9515},
      {"p":4,"s":430,"a":0.9927,"b":0.98,"c":0.933,"x":0.9939,"y":0.9831,"z":0.9506},
      {"p":4,"s":440,"a":0.9951,"b":0.9865,"c":0.964,"x":0.994,"y":0.9827,"z":0.9502},
      {"p":4,"s":450,"a":0.9929,"b":0.979,"c":0.925,"x":0.9941,"y":0.9823,"z":0.9498},
      {"p":4,"s":460,"a":0.9953,"b":0.986,"c":0.966,"x":0.9942,"y":0.982,"z":0.9515},
      {"p":4,"s":470,"a":0.9931,"b":0.9785,"c":0.938,"x":0.9943,"y":0.9821,"z":0.9532},
      {"p":4,"s":480,"a":0.9955,"b":0.986,"c":0.968,"x":0.9944,"y":0.9822,"z":0.9537},
      {"p":4,"s":490,"a":0.9933,"b":0.979,"c":0.94,"x":0.9945,"y":0.9827,"z":0.954},
      {"p":4,"s":500,"a":0.9956,"b":0.9865,"c":0.97,"x":0.9946,"y":0.9832,"z":0.9537},
      {"p":4,"s":510,"a":0.9935,"b":0.98,"c":0.938,"x":0.9946,"y":0.9834,"z":0.9532},
      {"p":4,"s":520,"a":0.9957,"b":0.9875,"c":0.968,"x":0.9947,"y":0.9835,"z":0.9525},
      {"p":4,"s":530,"a":0.9937,"b":0.9795,"c":0.935,"x":0.9948,"y":0.9836,"z":0.9516},
      {"p":4,"s":540,"a":0.9959,"b":0.987,"c":0.966,"x":0.9949,"y":0.9837,"z":0.9508},
      {"p":4,"s":550,"a":0.9938,"b":0.98,"c":0.93,"x":0.995,"y":0.9837,"z":0.95},
      {"p":4,"s":560,"a":0.9961,"b":0.9875,"c":0.965,"x":0.9951,"y":0.9837,"z":0.948},
      {"p":4,"s":570,"a":0.994,"b":0.98,"c":0.925,"x":0.9952,"y":0.9836,"z":0.9495},
      {"p":4,"s":580,"a":0.9963,"b":0.987,"c":0.912,"x":0.9953,"y":0.9836,"z":0.9482},
      {"p":4,"s":590,"a":0.9943,"b":0.9775,"c":0.93,"x":0.9954,"y":0.9833,"z":0.9467},
      {"p":4,"s":600,"a":0.9966,"b":0.9865,"c":0.965,"x":0.9956,"y":0.983,"z":0.948},
      {"p":4,"s":610,"a":0.9946,"b":0.979,"c":0.932,"x":0.9957,"y":0.9829,"z":0.949},
      {"p":4,"s":620,"a":0.9969,"b":0.9865,"c":0.97,"x":0.9959,"y":0.9828,"z":0.952},
      {"p":4,"s":630,"a":0.995,"b":0.98,"c":0.94,"x":0.996,"y":0.9832,"z":0.9552},
      {"p":4,"s":640,"a":0.9972,"b":0.9875,"c":0.975,"x":0.9962,"y":0.9837,"z":0.959},
      {"p":4,"s":650,"a":0.9953,"b":0.981,"c":0.948,"x":0.9964,"y":0.984,"z":0.9625},
      {"p":4,"s":660,"a":0.9976,"b":0.988,"c":0.98,"x":0.9966,"y":0.9843,"z":0.964},
      {"p":4,"s":670,"a":0.9957,"b":0.9815,"c":0.95,"x":0.9968,"y":0.9846,"z":0.9656},
      {"p":4,"s":680,"a":0.998,"b":0.9885,"c":0.98,"x":0.997,"y":0.9848,"z":0.967},
      {"p":4,"s":690,"a":0.996,"b":0.982,"c":0.955,"x":0.9971,"y":0.985,"z":0.9682},
      {"p":4,"s":700,"a":0.9982,"b":0.989,"c":0.982,"x":0.9972,"y":0.9852,"z":0.9688},
      {"p":4,"s":710,"a":0.9962,"b":0.9825,"c":0.955,"x":0.9972,"y":0.9855,"z":0.9695},
      {"p":4,"s":720,"a":0.9983,"b":0.9895,"c":0.93,"x":0.9973,"y":0.9858,"z":0.9685},
      {"p":4,"s":730,"a":0.9963,"b":0.983,"c":0.955,"x":0.9973,"y":0.9862,"z":0.9656},
      {"p":4,"s":740,"a":0.9984,"b":0.9905,"c":0.978,"x":0.9974,"y":0.9866,"z":0.964},
      {"p":4,"s":750,"a":0.9964,"b":0.984,"c":0.948,"x":0.9974,"y":0.987,"z":0.9625},
      {"p":4,"s":760,"a":0.9984,"b":0.991,"c":0.975,"x":0.9974,"y":0.9874,"z":0.9615},
      {"p":4,"s":770,"a":0.9963,"b":0.9845,"c":0.945,"x":0.9973,"y":0.9876,"z":0.9604},
      {"p":4,"s":780,"a":0.9982,"b":0.991,"c":0.977,"x":0.9972,"y":0.9877,"z":0.9608},
      {"p":4,"s":790,"a":0.9961,"b":0.9845,"c":0.946,"x":0.9971,"y":0.9878,"z":0.9612},
      {"p":4,"s":800,"a":0.998,"b":0.9915,"c":0.976,"x":0.997,"y":0.9879,"z":0.9608},
      {"p":4,"s":810,"a":0.996,"b":0.9845,"c":0.945,"x":0.997,"y":0.9877,"z":0.9604},
      {"p":4,"s":820,"a":0.998,"b":0.991,"c":0.975,"x":0.997,"y":0.9874,"z":0.9606},
      {"p":4,"s":830,"a":0.9961,"b":0.9835,"c":0.948,"x":0.9971,"y":0.9871,"z":0.9609},
      {"p":4,"s":840,"a":0.9981,"b":0.9905,"c":0.977,"x":0.9971,"y":0.9869,"z":0.962},
      {"p":4,"s":850,"a":0.9961,"b":0.984,"c":0.95,"x":0.9971,"y":0.987,"z":0.9635},
      {"p":4,"s":860,"a":0.9981,"b":0.9905,"c":0.979,"x":0.9971,"y":0.9872,"z":0.965},
      {"p":4,"s":870,"a":0.9962,"b":0.984,"c":0.952,"x":0.9972,"y":0.9874,"z":0.9666},
      {"p":4,"s":880,"a":0.9982,"b":0.9955,"c":0.981,"x":0.9972,"y":0.9875,"z":0.968},
      {"p":4,"s":890,"a":0.9962,"b":0.9845,"c":0.956,"x":0.9972,"y":0.9876,"z":0.9692},
      {"p":4,"s":900,"a":0.9982,"b":0.991,"c":0.982,"x":0.9972,"y":0.9877,"z":0.9695},
      {"p":4,"s":910,"a":0.9961,"b":0.9845,"c":0.935,"x":0.9972,"y":0.9879,"z":0.9695},
      {"p":4,"s":920,"a":0.9981,"b":0.9915,"c":0.98,"x":0.9971,"y":0.988,"z":0.9686},
      {"p":4,"s":930,"a":0.996,"b":0.985,"c":0.955,"x":0.9971,"y":0.9882,"z":0.9677},
      {"p":4,"s":940,"a":0.9979,"b":0.992,"c":0.978,"x":0.997,"y":0.9884,"z":0.967},
      {"p":4,"s":950,"a":0.9959,"b":0.9855,"c":0.953,"x":0.9969,"y":0.9886,"z":0.9664},
      {"p":4,"s":960,"a":0.9979,"b":0.9925,"c":0.979,"x":0.9969,"y":0.9888,"z":0.9668},
      {"p":4,"s":970,"a":0.996,"b":0.986,"c":0.955,"x":0.9969,"y":0.9892,"z":0.9682},
      {"p":4,"s":980,"a":0.998,"b":0.9935,"c":0.983,"x":0.997,"y":0.9896,"z":0.9695},
      {"p":4,"s":990,"a":0.9961,"b":0.987,"c":0.958,"x":0.997,"y":0.9903,"z":0.9708},
      {"p":4,"s":1000,"a":0.9982,"b":0.9945,"c":0.986,"x":0.9971,"y":0.991,"z":0.9728},

      {"p":5,"s":0,"a":2.3,"b":2.75,"c":2.95,"x":2.27,"y":2.7,"z":2.91},
      {"p":5,"s":10,"a":2.17,"b":2.58,"c":2.75,"x":2.23,"y":2.72,"z":2.85},
      {"p":5,"s":20,"a":2.27,"b":2.88,"c":2.98,"x":2.21,"y":2.75,"z":2.86},
      {"p":5,"s":30,"a":2.14,"b":2.6,"c":2.78,"x":2.21,"y":2.75,"z":2.86},
      {"p":5,"s":40,"a":2.26,"b":2.86,"c":3.0,"x":2.2,"y":2.75,"z":2.87},
      {"p":5,"s":50,"a":2.12,"b":2.58,"c":2.76,"x":2.19,"y":2.73,"z":2.87},
      {"p":5,"s":60,"a":2.23,"b":2.84,"c":3.02,"x":2.17,"y":2.71,"z":2.88},
      {"p":5,"s":70,"a":2.09,"b":2.55,"c":2.8,"x":2.15,"y":2.69,"z":2.88},
      {"p":5,"s":80,"a":2.18,"b":2.8,"c":3.1,"x":2.12,"y":2.68,"z":2.89},
      {"p":5,"s":90,"a":2.04,"b":2.55,"c":2.82,"x":2.1,"y":2.67,"z":2.93},
      {"p":5,"s":100,"a":2.13,"b":2.82,"c":3.35,"x":2.07,"y":2.67,"z":2.99},
      {"p":5,"s":110,"a":1.99,"b":2.52,"c":2.85,"x":2.05,"y":2.67,"z":3.07},
      {"p":5,"s":120,"a":2.08,"b":2.8,"c":3.55,"x":2.02,"y":2.67,"z":3.18},
      {"p":5,"s":130,"a":1.94,"b":2.5,"c":3.1,"x":2.0,"y":2.66,"z":3.3},
      {"p":5,"s":140,"a":2.04,"b":2.8,"c":3.85,"x":1.98,"y":2.66,"z":3.43},
      {"p":5,"s":150,"a":1.91,"b":2.52,"c":3.25,"x":1.97,"y":2.66,"z":3.56},
      {"p":5,"s":160,"a":2.02,"b":2.82,"c":4.05,"x":1.96,"y":2.67,"z":3.69},
      {"p":5,"s":170,"a":1.88,"b":2.55,"c":3.5,"x":1.94,"y":2.69,"z":3.81},
      {"p":5,"s":180,"a":1.99,"b":2.85,"c":4.35,"x":1.93,"y":2.68,"z":3.92},
      {"p":5,"s":190,"a":1.86,"b":2.5,"c":3.6,"x":1.92,"y":2.66,"z":3.99},
      {"p":5,"s":200,"a":1.97,"b":2.78,"c":4.5,"x":1.91,"y":2.64,"z":4.05},
      {"p":5,"s":210,"a":1.84,"b":2.46,"c":3.65,"x":1.9,"y":2.62,"z":4.05},
      {"p":5,"s":220,"a":1.96,"b":2.75,"c":4.45,"x":1.9,"y":2.61,"z":4.05},
      {"p":5,"s":230,"a":1.83,"b":2.92,"c":3.6,"x":1.89,"y":2.61,"z":4.07},
      {"p":5,"s":240,"a":1.95,"b":2.47,"c":4.7,"x":1.89,"y":2.61,"z":4.09},
      {"p":5,"s":250,"a":1.82,"b":2.76,"c":5.3,"x":1.88,"y":2.61,"z":4.14},
      {"p":5,"s":260,"a":1.94,"b":2.46,"c":3.75,"x":1.88,"y":2.61,"z":4.2},
      {"p":5,"s":270,"a":1.81,"b":2.74,"c":4.85,"x":1.87,"y":2.6,"z":4.26},
      {"p":5,"s":280,"a":1.92,"b":2.44,"c":3.85,"x":1.86,"y":2.59,"z":4.31},
      {"p":5,"s":290,"a":1.79,"b":2.72,"c":4.9,"x":1.85,"y":2.57,"z":4.33},
      {"p":5,"s":300,"a":1.91,"b":2.4,"c":3.95,"x":1.85,"y":2.55,"z":4.35},
      {"p":5,"s":310,"a":1.78,"b":2.68,"c":4.85,"x":1.84,"y":2.53,"z":4.35},
      {"p":5,"s":320,"a":1.9,"b":2.36,"c":3.9,"x":1.84,"y":2.52,"z":4.34},
      {"p":5,"s":330,"a":1.77,"b":2.65,"c":4.8,"x":1.83,"y":2.5,"z":4.35},
      {"p":5,"s":340,"a":1.89,"b":2.33,"c":3.85,"x":1.83,"y":2.49,"z":4.36},
      {"p":5,"s":350,"a":1.76,"b":2.62,"c":4.7,"x":1.82,"y":2.46,"z":4.3},
      {"p":5,"s":360,"a":1.87,"b":2.27,"c":3.75,"x":1.81,"y":2.42,"z":4.22},
      {"p":5,"s":370,"a":1.73,"b":2.55,"c":4.6,"x":1.79,"y":2.38,"z":4.15},
      {"p":5,"s":380,"a":1.84,"b":2.2,"c":3.6,"x":1.78,"y":2.35,"z":4.07},
      {"p":5,"s":390,"a":1.71,"b":2.5,"c":4.45,"x":1.77,"y":2.35,"z":3.99},
      {"p":5,"s":400,"a":1.82,"b":2.22,"c":3.45,"x":1.76,"y":2.36,"z":3.92},
      {"p":5,"s":410,"a":1.69,"b":2.52,"c":4.4,"x":1.75,"y":2.37,"z":3.93},
      {"p":5,"s":420,"a":1.8,"b":2.23,"c":3.5,"x":1.74,"y":2.38,"z":3.94},
      {"p":5,"s":430,"a":1.67,"b":2.57,"c":4.45,"x":1.73,"y":2.41,"z":3.96},
      {"p":5,"s":440,"a":1.79,"b":2.28,"c":3.5,"x":1.73,"y":2.44,"z":3.98},
      {"p":5,"s":450,"a":1.66,"b":2.6,"c":4.5,"x":1.72,"y":2.46,"z":3.99},
      {"p":5,"s":460,"a":1.77,"b":2.31,"c":3.55,"x":1.71,"y":2.47,"z":4.0},
      {"p":5,"s":470,"a":1.64,"b":2.64,"c":4.35,"x":1.7,"y":2.49,"z":3.9},
      {"p":5,"s":480,"a":1.76,"b":2.33,"c":3.4,"x":1.7,"y":2.49,"z":3.87},
      {"p":5,"s":490,"a":1.63,"b":2.6,"c":4.3,"x":1.69,"y":2.45,"z":3.86},
      {"p":5,"s":500,"a":1.75,"b":2.27,"c":3.4,"x":1.69,"y":2.42,"z":3.86},
      {"p":5,"s":510,"a":1.62,"b":2.56,"c":4.3,"x":1.68,"y":2.4,"z":3.86},
      {"p":5,"s":520,"a":1.73,"b":2.24,"c":3.45,"x":1.67,"y":2.39,"z":3.9},
      {"p":5,"s":530,"a":1.6,"b":2.53,"c":4.4,"x":1.66,"y":2.38,"z":3.94},
      {"p":5,"s":540,"a":1.72,"b":2.22,"c":3.5,"x":1.66,"y":2.38,"z":3.96},
      {"p":5,"s":550,"a":1.59,"b":2.53,"c":4.5,"x":1.65,"y":2.38,"z":3.98},
      {"p":5,"s":560,"a":1.7,"b":2.23,"c":3.6,"x":1.64,"y":2.38,"z":4.09},
      {"p":5,"s":570,"a":1.57,"b":2.52,"c":4.6,"x":1.63,"y":2.37,"z":4.05},
      {"p":5,"s":580,"a":1.68,"b":2.22,"c":5.2,"x":1.62,"y":2.37,"z":4.03},
      {"p":5,"s":590,"a":1.54,"b":2.55,"c":3.6,"x":1.6,"y":2.38,"z":4.1},
      {"p":5,"s":600,"a":1.65,"b":2.24,"c":4.6,"x":1.59,"y":2.4,"z":4.12},
      {"p":5,"s":610,"a":1.51,"b":2.62,"c":3.55,"x":1.57,"y":2.43,"z":4.05},
      {"p":5,"s":620,"a":1.62,"b":2.3,"c":4.45,"x":1.56,"y":2.44,"z":3.92},
      {"p":5,"s":630,"a":1.47,"b":2.56,"c":3.3,"x":1.53,"y":2.4,"z":3.72},
      {"p":5,"s":640,"a":1.57,"b":2.2,"c":4.1,"x":1.51,"y":2.36,"z":3.6},
      {"p":5,"s":650,"a":1.42,"b":2.5,"c":3.0,"x":1.48,"y":2.34,"z":3.5},
      {"p":5,"s":660,"a":1.52,"b":2.17,"c":3.95,"x":1.46,"y":2.33,"z":3.46},
      {"p":5,"s":670,"a":1.38,"b":2.48,"c":3.0,"x":1.44,"y":2.32,"z":3.41},
      {"p":5,"s":680,"a":1.48,"b":2.16,"c":3.85,"x":1.42,"y":2.32,"z":3.37},
      {"p":5,"s":690,"a":1.35,"b":2.47,"c":2.9,"x":1.41,"y":2.31,"z":3.31},
      {"p":5,"s":700,"a":1.47,"b":2.15,"c":2.5,"x":1.41,"y":2.31,"z":3.26},
      {"p":5,"s":710,"a":1.35,"b":1.65,"c":2.75,"x":1.41,"y":2.29,"z":3.21},
      {"p":5,"s":720,"a":1.47,"b":2.12,"c":3.7,"x":1.41,"y":2.27,"z":3.3},
      {"p":5,"s":730,"a":1.34,"b":2.4,"c":2.95,"x":1.4,"y":2.24,"z":3.43},
      {"p":5,"s":740,"a":1.45,"b":2.07,"c":4.0,"x":1.39,"y":2.22,"z":3.5},
      {"p":5,"s":750,"a":1.32,"b":2.36,"c":3.05,"x":1.38,"y":2.2,"z":3.55},
      {"p":5,"s":760,"a":1.44,"b":2.02,"c":4.1,"x":1.38,"y":2.18,"z":3.6},
      {"p":5,"s":770,"a":1.32,"b":2.32,"c":3.15,"x":1.38,"y":2.16,"z":3.64},
      {"p":5,"s":780,"a":1.45,"b":1.98,"c":4.15,"x":1.39,"y":2.14,"z":3.64},
      {"p":5,"s":790,"a":1.35,"b":2.3,"c":3.15,"x":1.41,"y":2.13,"z":3.62},
      {"p":5,"s":800,"a":1.48,"b":1.96,"c":4.1,"x":1.42,"y":2.13,"z":3.62},
      {"p":5,"s":810,"a":1.36,"b":2.32,"c":3.1,"x":1.42,"y":2.15,"z":3.64},
      {"p":5,"s":820,"a":1.48,"b":2.03,"c":4.15,"x":1.42,"y":2.19,"z":3.63},
      {"p":5,"s":830,"a":1.36,"b":2.36,"c":3.1,"x":1.42,"y":2.2,"z":3.61},
      {"p":5,"s":840,"a":1.48,"b":2.03,"c":4.0,"x":1.42,"y":2.19,"z":3.53},
      {"p":5,"s":850,"a":1.35,"b":2.34,"c":3.0,"x":1.41,"y":2.18,"z":3.45},
      {"p":5,"s":860,"a":1.47,"b":2.02,"c":3.9,"x":1.41,"y":2.18,"z":3.38},
      {"p":5,"s":870,"a":1.34,"b":2.33,"c":2.9,"x":1.4,"y":2.17,"z":3.32},
      {"p":5,"s":880,"a":1.46,"b":2.0,"c":3.75,"x":1.4,"y":2.16,"z":3.29},
      {"p":5,"s":890,"a":1.33,"b":2.32,"c":2.8,"x":1.39,"y":2.15,"z":3.26},
      {"p":5,"s":900,"a":1.45,"b":1.99,"c":3.75,"x":1.39,"y":2.15,"z":3.27},
      {"p":5,"s":910,"a":1.34,"b":2.3,"c":2.8,"x":1.4,"y":2.14,"z":3.28},
      {"p":5,"s":920,"a":1.47,"b":1.97,"c":3.8,"x":1.41,"y":2.13,"z":3.33},
      {"p":5,"s":930,"a":1.37,"b":2.28,"c":2.9,"x":1.43,"y":2.11,"z":3.37},
      {"p":5,"s":940,"a":1.5,"b":1.94,"c":4.3,"x":1.44,"y":2.1,"z":3.38},
      {"p":5,"s":950,"a":1.38,"b":2.26,"c":2.9,"x":1.44,"y":2.09,"z":3.38},
      {"p":5,"s":960,"a":1.5,"b":1.92,"c":3.8,"x":1.44,"y":2.08,"z":3.34},
      {"p":5,"s":970,"a":1.37,"b":1.55,"c":2.8,"x":1.43,"y":2.07,"z":3.27},
      {"p":5,"s":980,"a":1.48,"b":1.88,"c":3.7,"x":1.42,"y":2.03,"z":3.22},
      {"p":5,"s":990,"a":1.34,"b":2.15,"c":2.3,"x":1.4,"y":1.99,"z":3.16},
      {"p":5,"s":1000,"a":1.45,"b":1.75,"c":3.3,"x":1.39,"y":1.93,"z":3.06}
    ]
  },
  "data": {"name": "runs"},
  "vconcat": [
    {
      "hconcat": [
        {
          "width": 650, "height": 377,
          "title": "task_reward",
          "transform": [{"filter": "datum.p == 1"}, {"fold": ["a", "b", "c", "x", "y", "z"], "as": ["k", "v"]}],
          "encoding": {
            "x": {"field": "s", "type": "quantitative", "scale": {"domain": [0, 1000], "nice": false}, "axis": {"values": [0, 200, 400, 600, 800, 1000], "format": "d", "title": null, "gridOpacity": {"condition": {"test": "datum.value == 0 || datum.value == 1000", "value": 0}, "value": 1}}},
            "y": {"field": "v", "type": "quantitative", "scale": {"domain": [0.4, 0.786], "nice": false, "zero": false}, "axis": {"values": [0.4, 0.45, 0.5, 0.55, 0.6, 0.65, 0.7, 0.75], "format": ".2f", "title": "value", "titlePadding": 9, "gridOpacity": {"condition": {"test": "datum.value < 0.41", "value": 0}, "value": 1}}},
            "color": {"field": "k", "type": "nominal", "scale": {"domain": ["a", "b", "c", "x", "y", "z"], "range": ["#f4b6c0", "#4e9bf2", "#9dcc85", "#f4b6c0", "#4e9bf2", "#9dcc85"]},
              "legend": {"values": ["x", "y", "z"], "labelExpr": "datum.label == 'x' ? 'InftyThink+ (Task) (φ = 3)' : datum.label == 'y' ? 'InftyThink+ (Task) (φ = 5)' : 'InftyThink+ (Task) (φ = 10)'"}}
          },
          "layer": [
            {"transform": [{"filter": {"field": "k", "oneOf": ["a", "b", "c"]}}], "mark": {"type": "line", "strokeWidth": 1.1, "strokeOpacity": 0.42, "clip": true}},
            {"transform": [{"filter": {"field": "k", "oneOf": ["x", "y", "z"]}}], "mark": {"type": "line", "strokeWidth": 3, "clip": true}}
          ]
        },
        {
          "width": 650, "height": 377,
          "title": "num_turns",
          "transform": [{"filter": "datum.p == 2"}, {"fold": ["a", "b", "c", "x", "y", "z"], "as": ["k", "v"]}],
          "encoding": {
            "x": {"field": "s", "type": "quantitative", "scale": {"domain": [0, 1000], "nice": false}, "axis": {"values": [0, 200, 400, 600, 800, 1000], "format": "d", "title": null, "gridOpacity": {"condition": {"test": "datum.value == 0 || datum.value == 1000", "value": 0}, "value": 1}}},
            "y": {"field": "v", "type": "quantitative", "scale": {"domain": [1.52, 6.59], "nice": false, "zero": false}, "axis": {"values": [2, 3, 4, 5, 6], "format": "d", "title": null}},
            "color": {"field": "k", "type": "nominal", "scale": {"domain": ["a", "b", "c", "x", "y", "z"], "range": ["#f4b6c0", "#4e9bf2", "#9dcc85", "#f4b6c0", "#4e9bf2", "#9dcc85"]},
              "legend": {"values": ["x", "y", "z"], "labelExpr": "datum.label == 'x' ? 'InftyThink+ (Task) (φ = 3)' : datum.label == 'y' ? 'InftyThink+ (Task) (φ = 5)' : 'InftyThink+ (Task) (φ = 10)'"}}
          },
          "layer": [
            {"transform": [{"filter": {"field": "k", "oneOf": ["a", "b", "c"]}}], "mark": {"type": "line", "strokeWidth": 1.1, "strokeOpacity": 0.42, "clip": true}},
            {"transform": [{"filter": {"field": "k", "oneOf": ["x", "y", "z"]}}], "mark": {"type": "line", "strokeWidth": 3, "clip": true}}
          ]
        }
      ],
      "spacing": 53,
      "bounds": "flush",
      "title": {"text": "(a) InftyThink-related metrics of InftyThink⁺ trained with task reward only under different iteration caps φ ∈ {3, 5, 10}.", "orient": "bottom", "anchor": "middle", "font": "Liberation Serif", "fontSize": 26.5, "fontWeight": "normal", "offset": 38}
    },
    {
      "hconcat": [
        {
          "width": 401, "height": 347,
          "title": "task_reward",
          "transform": [{"filter": "datum.p == 3"}, {"fold": ["a", "b", "c", "x", "y", "z"], "as": ["k", "v"]}],
          "encoding": {
            "x": {"field": "s", "type": "quantitative", "scale": {"domain": [0, 1000], "nice": false}, "axis": {"values": [0, 200, 400, 600, 800, 1000], "format": "d", "title": null, "gridOpacity": {"condition": {"test": "datum.value == 0 || datum.value == 1000", "value": 0}, "value": 1}}},
            "y": {"field": "v", "type": "quantitative", "scale": {"domain": [0.403, 0.782], "nice": false, "zero": false}, "axis": {"values": [0.45, 0.5, 0.55, 0.6, 0.65, 0.7, 0.75], "format": ".2f", "title": "value", "titlePadding": 9}},
            "color": {"field": "k", "type": "nominal", "scale": {"domain": ["a", "b", "c", "x", "y", "z"], "range": ["#f4b6c0", "#4e9bf2", "#9dcc85", "#f4b6c0", "#4e9bf2", "#9dcc85"]},
              "legend": {"offset": -3, "values": ["x", "y", "z"], "labelExpr": "datum.label == 'x' ? 'InftyThink+ (Task + Efficiency) (φ = 3)' : datum.label == 'y' ? 'InftyThink+ (Task + Efficiency) (φ = 5)' : 'InftyThink+ (Task + Efficiency) (φ = 10)'"}}
          },
          "layer": [
            {"transform": [{"filter": {"field": "k", "oneOf": ["a", "b", "c"]}}], "mark": {"type": "line", "strokeWidth": 1.1, "strokeOpacity": 0.42, "clip": true}},
            {"transform": [{"filter": {"field": "k", "oneOf": ["x", "y", "z"]}}], "mark": {"type": "line", "strokeWidth": 3, "clip": true}}
          ]
        },
        {
          "width": 401, "height": 347,
          "title": "efficiency_reward",
          "transform": [{"filter": "datum.p == 4"}, {"fold": ["a", "b", "c", "x", "y", "z"], "as": ["k", "v"]}],
          "encoding": {
            "x": {"field": "s", "type": "quantitative", "scale": {"domain": [0, 1000], "nice": false}, "axis": {"values": [0, 200, 400, 600, 800, 1000], "format": "d", "title": null, "gridOpacity": {"condition": {"test": "datum.value == 0 || datum.value == 1000", "value": 0}, "value": 1}}},
            "y": {"field": "v", "type": "quantitative", "scale": {"domain": [0.8956, 1.0034], "nice": false, "zero": false}, "axis": {"values": [0.9, 0.92, 0.94, 0.96, 0.98, 1.0], "format": ".2f", "title": null}},
            "color": {"field": "k", "type": "nominal", "scale": {"domain": ["a", "b", "c", "x", "y", "z"], "range": ["#f4b6c0", "#4e9bf2", "#9dcc85", "#f4b6c0", "#4e9bf2", "#9dcc85"]},
              "legend": {"offset": -3, "values": ["x", "y", "z"], "labelExpr": "datum.label == 'x' ? 'InftyThink+ (Task + Efficiency) (φ = 3)' : datum.label == 'y' ? 'InftyThink+ (Task + Efficiency) (φ = 5)' : 'InftyThink+ (Task + Efficiency) (φ = 10)'"}}
          },
          "layer": [
            {"transform": [{"filter": {"field": "k", "oneOf": ["a", "b", "c"]}}], "mark": {"type": "line", "strokeWidth": 1.1, "strokeOpacity": 0.42, "clip": true}},
            {"transform": [{"filter": {"field": "k", "oneOf": ["x", "y", "z"]}}], "mark": {"type": "line", "strokeWidth": 3, "clip": true}}
          ]
        },
        {
          "width": 401, "height": 347,
          "title": "num_turns",
          "transform": [{"filter": "datum.p == 5"}, {"fold": ["a", "b", "c", "x", "y", "z"], "as": ["k", "v"]}],
          "encoding": {
            "x": {"field": "s", "type": "quantitative", "scale": {"domain": [0, 1000], "nice": false}, "axis": {"values": [0, 200, 400, 600, 800, 1000], "format": "d", "title": "Training Steps", "titlePadding": 9, "gridOpacity": {"condition": {"test": "datum.value == 0 || datum.value == 1000", "value": 0}, "value": 1}}},
            "y": {"field": "v", "type": "quantitative", "scale": {"domain": [1.05, 5.505], "nice": false, "zero": false}, "axis": {"values": [1.5, 2, 2.5, 3, 3.5, 4, 4.5, 5], "format": ".1f", "title": null}},
            "color": {"field": "k", "type": "nominal", "scale": {"domain": ["a", "b", "c", "x", "y", "z"], "range": ["#f4b6c0", "#4e9bf2", "#9dcc85", "#f4b6c0", "#4e9bf2", "#9dcc85"]},
              "legend": {"offset": -3, "values": ["x", "y", "z"], "labelExpr": "datum.label == 'x' ? 'InftyThink+ (Task + Efficiency) (φ = 3)' : datum.label == 'y' ? 'InftyThink+ (Task + Efficiency) (φ = 5)' : 'InftyThink+ (Task + Efficiency) (φ = 10)'"}}
          },
          "layer": [
            {"transform": [{"filter": {"field": "k", "oneOf": ["a", "b", "c"]}}], "mark": {"type": "line", "strokeWidth": 1.1, "strokeOpacity": 0.42, "clip": true}},
            {"transform": [{"filter": {"field": "k", "oneOf": ["x", "y", "z"]}}], "mark": {"type": "line", "strokeWidth": 3, "clip": true}}
          ]
        }
      ],
      "spacing": 75,
      "bounds": "flush",
      "title": {"text": "(b) InftyThink-related metrics of InftyThink⁺ trained with task + efficiency rewards under different iteration caps φ ∈ {3, 5, 10}.", "orient": "bottom", "anchor": "middle", "font": "Liberation Serif", "fontSize": 26.5, "fontWeight": "normal", "offset": 39}
    }
  ],
  "spacing": 34,
  "resolve": {"scale": {"color": "independent"}, "legend": {"color": "independent"}},
  "title": {
    "text": [
      "Figure 22. Impact of the iteration cap φ on InftyThink-specific training metrics. The top row isolates task reward and realized turns, while",
      "the bottom row additionally includes the efficiency reward, revealing how φ controls the rollout horizon and consequently the attainable",
      "efficiency signal."
    ],
    "orient": "bottom", "anchor": "start", "font": "Liberation Serif", "fontSize": 26.5, "fontWeight": "normal", "lineHeight": 30, "offset": 27, "dx": -11
  }
}
